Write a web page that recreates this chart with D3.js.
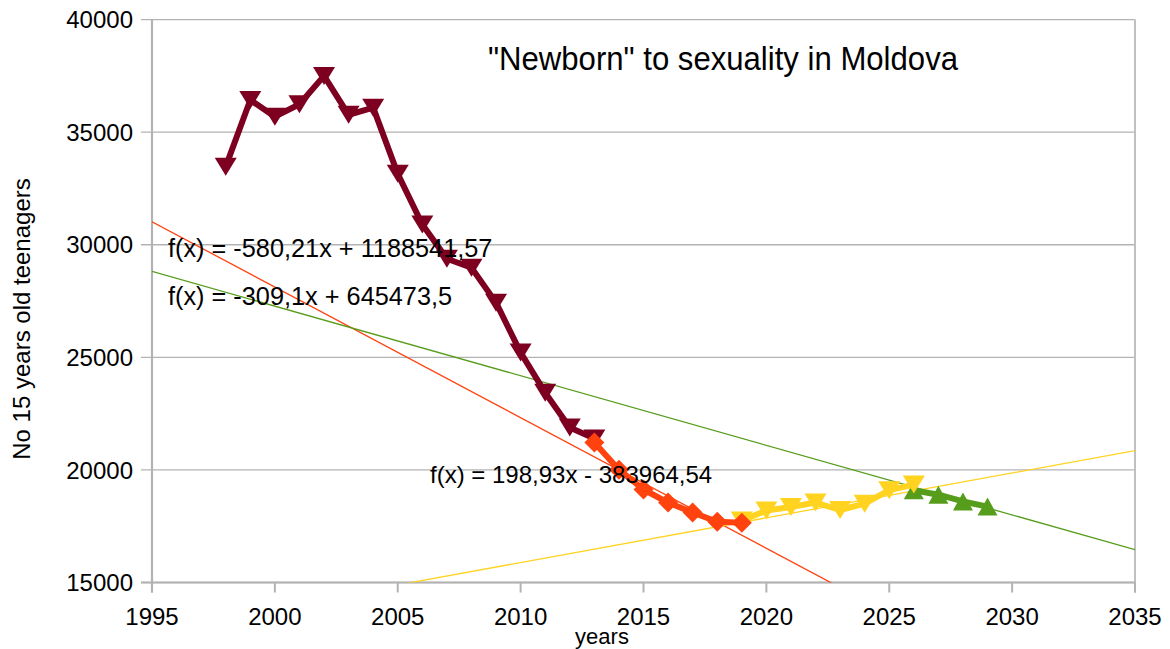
<!DOCTYPE html>
<html>
<head>
<meta charset="utf-8">
<script src="https://cdn.jsdelivr.net/npm/d3@7"></script>
<style>
	body { margin: 0; background: #fff; }
	text { font-family: "Liberation Sans", Arial, sans-serif; fill: #000; }
</style>
</head>
<body>
<svg id="chart_svg" width="1170" height="649"></svg>
<script>
// values
var years_darkred = d3.range(1998, 2014)
var values_darkred = [33470, 36430, 35690, 36240, 37500, 35770, 36090, 33150, 30900, 29380, 28980, 27430, 25210, 23430, 21880, 21400]
var years_orange = d3.range(2013, 2020)
var values_orange = [21220, 20010, 19130, 18550, 18110, 17700, 17650]
var years_yellow = d3.range(2019, 2027)
var values_yellow = [17750, 18200, 18350, 18550, 18220, 18500, 19100, 19350]
var years_green = d3.range(2026, 2030)
var values_green = [19100, 18900, 18600, 18370]

// trend lines as printed on the chart: slope, intercept
var trend_orange = [-580.21, 1188541.57]
var trend_green = [-309.1, 645473.5]
var trend_yellow = [198.93, -383964.54]
var trend_labels = ["f(x) = -580,21x + 1188541,57", "f(x) = -309,1x + 645473,5", "f(x) = 198,93x - 383964,54"]

var x_ticks = d3.range(1995, 2036, 5)
var y_ticks = [15000, 20000, 25000, 30000, 35000, 40000]

function init_chart() {
	var svg = d3.select("#chart_svg")
	var left = 152, right = 1135, top = 19.6, bottom = 582.5

	var x_scale = d3.scaleLinear().domain([1995, 2035]).range([left, right])
	var y_scale = d3.scaleLinear().domain([15000, 40000]).range([bottom, top])

	svg.append("clipPath").attr("id", "plot_clip")
	  .append("rect")
	  .attr("x", left).attr("y", top)
	  .attr("width", right - left).attr("height", bottom - top)

	// horizontal grid
	svg.append("g").selectAll("line")
	  .data(y_ticks)
	  .enter().append("line")
	  .attr("x1", left - 11).attr("x2", right)
	  .attr("y1", d=>y_scale(d)).attr("y2", d=>y_scale(d))
	  .style("stroke", "#b3b3b3").style("stroke-width", 1.3)

	// right border
	svg.append("line")
	  .attr("x1", right).attr("x2", right).attr("y1", top).attr("y2", bottom + 10)
	  .style("stroke", "#c0c0c0").style("stroke-width", 2)

	// axes lines + ticks
	svg.append("line")
	  .attr("x1", left).attr("x2", left).attr("y1", top).attr("y2", bottom + 10)
	  .style("stroke", "#b3b3b3").style("stroke-width", 2.2)
	svg.append("line")
	  .attr("x1", left - 11).attr("x2", right).attr("y1", bottom).attr("y2", bottom)
	  .style("stroke", "#b3b3b3").style("stroke-width", 2.2)
	svg.append("g").selectAll("line")
	  .data(x_ticks)
	  .enter().append("line")
	  .attr("x1", d=>x_scale(d)).attr("x2", d=>x_scale(d))
	  .attr("y1", bottom).attr("y2", bottom + 10)
	  .style("stroke", "#b3b3b3").style("stroke-width", 2)

	svg.append("g").selectAll("text")
	  .data(x_ticks)
	  .enter().append("text")
	  .attr("x", d=>x_scale(d)).attr("y", 625)
	  .attr("text-anchor", "middle")
	  .style("font-size", "24px")
	  .text(d=>d)
	svg.append("g").selectAll("text")
	  .data(y_ticks)
	  .enter().append("text")
	  .attr("x", 133).attr("y", d=>y_scale(d))
	  .attr("dy", "0.36em")
	  .attr("text-anchor", "end")
	  .style("font-size", "24px")
	  .text(d=>d)

	// axis titles
	svg.append("text")
	  .attr("x", 602).attr("y", 644)
	  .attr("text-anchor", "middle")
	  .style("font-size", "22px")
	  .text("years")
	svg.append("text")
	  .attr("transform", "translate(30,319) rotate(-90)")
	  .attr("text-anchor", "middle")
	  .style("font-size", "24px")
	  .text("No 15 years old teenagers")

	// title
	svg.append("text")
	  .attr("x", 723).attr("y", 70)
	  .attr("text-anchor", "middle")
	  .attr("textLength", 470)
	  .attr("lengthAdjust", "spacingAndGlyphs")
	  .style("font-size", "34px")
	  .text("\"Newborn\" to sexuality in Moldova")

	// trend lines
	var trends = [[trend_orange, "#ff420e"], [trend_green, "#579d1c"], [trend_yellow, "#ffd320"]]
	svg.append("g")
	  .attr("clip-path", "url(#plot_clip)")
	  .selectAll("line")
	  .data(trends)
	  .enter().append("line")
	  .attr("x1", x_scale(1995)).attr("x2", x_scale(2035))
	  .attr("y1", d=>y_scale(d[0][0] * 1995 + d[0][1]))
	  .attr("y2", d=>y_scale(d[0][0] * 2035 + d[0][1]))
	  .style("stroke", d=>d[1])
	  .style("stroke-width", 1.3)

	// marker shapes
	var tri_down = "M-11,-9L11,-9L0,9Z"
	var tri_up = "M-10,9L10,9L0,-9Z"
	var diamond = "M0,-10L10,0L0,10L-10,0Z"

	var series = [
		{years: years_darkred, values: values_darkred, color: "#7e0021", marker: tri_down},
		{years: years_green, values: values_green, color: "#579d1c", marker: tri_up},
		{years: years_yellow, values: values_yellow, color: "#ffd320", marker: tri_down},
		{years: years_orange, values: values_orange, color: "#ff420e", marker: diamond}
	]

	var line = d3.line()
	  .x(d=>x_scale(d[0]))
	  .y(d=>y_scale(d[1]))

	series.forEach(s=>{
		var pts = s.years.map((yr, i)=>[yr, s.values[i]])
		var g = svg.append("g")
		g.append("path")
		  .attr("d", line(pts))
		  .style("fill", "none")
		  .style("stroke", s.color)
		  .style("stroke-width", 6)
		  .style("stroke-linejoin", "round")
		g.selectAll(".marker")
		  .data(pts)
		  .enter().append("path")
		  .attr("class", "marker")
		  .attr("transform", d=>"translate(" + x_scale(d[0]) + "," + y_scale(d[1]) + ")")
		  .attr("d", s.marker)
		  .style("fill", s.color)
	})

	// equation labels
	var label_pos = [[168, 257, 25.3], [168, 305, 25.3], [430, 483, 24]]
	svg.append("g").selectAll("text")
	  .data(trend_labels)
	  .enter().append("text")
	  .attr("x", (d,i)=>label_pos[i][0]).attr("y", (d,i)=>label_pos[i][1])
	  .style("font-size", (d,i)=>label_pos[i][2] + "px")
	  .text(d=>d)
}

init_chart()
</script>
</body>
</html>
